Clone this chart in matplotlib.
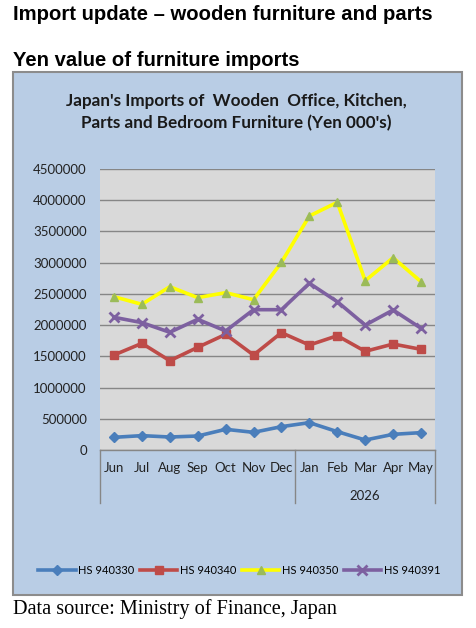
import matplotlib.pyplot as plt
import matplotlib.transforms as mtransforms
from matplotlib.patches import Rectangle

# Data -----
months = ['Jun', 'Jul', 'Aug', 'Sep', 'Oct', 'Nov', 'Dec',
          'Jan', 'Feb', 'Mar', 'Apr', 'May']
year_label = '2026'
hs940330 = [203000, 230000, 208000, 224000, 331000, 283000, 374000,
            438000, 294000, 160000, 251000, 278000]
hs940340 = [1521000, 1708000, 1430000, 1644000, 1852000, 1521000, 1879000,
            1681000, 1830000, 1580000, 1697000, 1612000]
hs940350 = [2455000, 2333000, 2615000, 2440000, 2520000, 2407000, 3006000,
            3747000, 3967000, 2711000, 3080000, 2695000]
hs940391 = [2125000, 2040000, 1885000, 2093000, 1906000, 2247000, 2247000,
            2670000, 2375000, 2000000, 2242000, 1949000]
yticks = [0, 500000, 1000000, 1500000, 2000000, 2500000,
          3000000, 3500000, 4000000, 4500000]

# Figure -----
fig = plt.figure(figsize=(4.76, 6.28), dpi=100)
W, H = 476, 628

def fx(px):
    return px / W

def fy(py):
    return 1 - py / H

# page headings
fig.text(fx(13), fy(14), 'Import update \u2013 wooden furniture and parts',
         fontsize=14.6, fontweight='bold', family='Liberation Sans', va='center')
fig.text(fx(13), fy(61), 'Yen value of furniture imports',
         fontsize=14.6, fontweight='bold', family='Liberation Sans', va='center')
fig.text(fx(13), fy(609), 'Data source: Ministry of Finance, Japan',
         fontsize=14.6, family='Liberation Serif', va='center')

# chart box
box = Rectangle((fx(13), fy(595)), fx(462) - fx(13), fy(72) - fy(595),
                transform=fig.transFigure, facecolor='#B9CDE5',
                edgecolor='#8C8C8C', linewidth=1.5, zorder=-1)
fig.patches.append(box)

fig.text(fx(236), fy(112), "Japan's Imports of  Wooden  Office, Kitchen,\n"
         "Parts and Bedroom Furniture (Yen 000's)",
         fontsize=12.3, fontweight='bold', family='Lato', ha='center',
         va='center', linespacing=1.45, color='#1A1A1A')

ax = fig.add_axes([fx(100), fy(450), fx(435) - fx(100), fy(169) - fy(450)])
ax.set_zorder(1)
ax.set_facecolor('#D9D9D9')

x = list(range(len(months)))
ax.plot(x, hs940330, color='#4A7EBB', lw=2.6, marker='D', ms=5.5,
        mfc='#4A7EBB', mec='#4A7EBB', label='HS 940330', zorder=3)
ax.plot(x, hs940340, color='#BE4B48', lw=2.6, marker='s', ms=5.5,
        mfc='#BE4B48', mec='#BE4B48', label='HS 940340', zorder=3)
ax.plot(x, hs940350, color='#FFFF00', lw=2.6, marker='^', ms=6,
        mfc='#9BBB59', mec='#9BBB59', label='HS 940350', zorder=3)
ax.plot(x, hs940391, color='#7D60A0', lw=2.6, marker='x', ms=7, mew=2,
        mfc='#7D60A0', mec='#7D60A0', label='HS 940391', zorder=3)

ax.set_xlim(-0.5, len(months) - 0.5)
ax.set_ylim(0, 4500000)
ax.set_yticks(yticks)
ax.set_yticklabels([str(v) for v in yticks])
ax.yaxis.grid(True, color='#868686', lw=1)
ax.set_axisbelow(True)
ax.tick_params(axis='y', length=0, pad=9.5, labelsize=9.5, labelcolor='#222222')
for lbl in ax.get_yticklabels():
    lbl.set_family('Lato')

ax.set_xticks(x)
ax.set_xticklabels(months)
ax.tick_params(axis='x', length=0, pad=9, labelsize=9.5, labelcolor='#222222')
for lbl in ax.get_xticklabels():
    lbl.set_family('Lato')

for side in ['left', 'right', 'top']:
    ax.spines[side].set_visible(False)
ax.spines['bottom'].set_color('#868686')
ax.spines['bottom'].set_linewidth(1)

# two-level category dividers
trans = mtransforms.blended_transform_factory(ax.transData, ax.transAxes)
for xv in [-0.5, 6.5, len(months) - 0.5]:
    ax.plot([xv, xv], [0, -0.19], transform=trans, color='#868686',
            lw=1, clip_on=False)
ax.text(9, -0.164, year_label, transform=trans, ha='center', va='center',
        fontsize=9.5, family='Lato', color='#222222')

leg = fig.legend(loc='center', bbox_to_anchor=(fx(239), fy(570)), ncol=4,
                 frameon=False, handlelength=3.4,
                 handletextpad=0.2, columnspacing=0.5,
                 prop={'family': 'Lato', 'size': 8.0})

fig.savefig('out.png', dpi=100)
